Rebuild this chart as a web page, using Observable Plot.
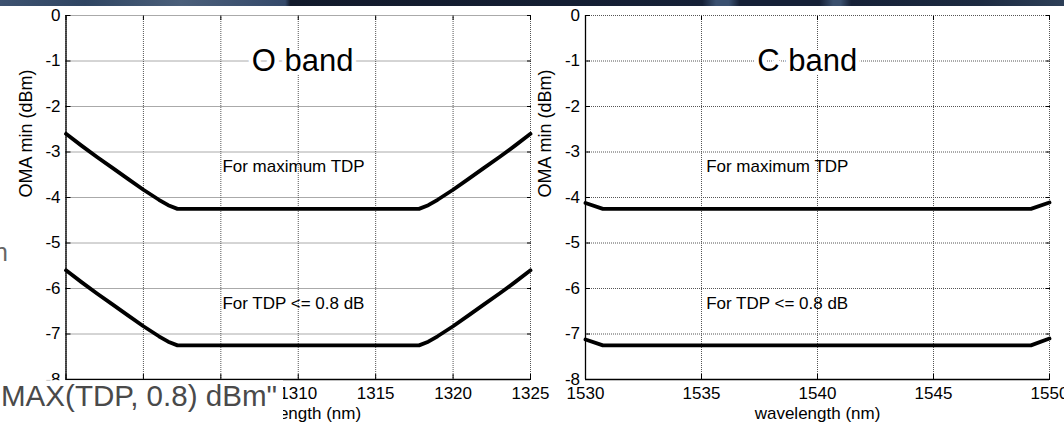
<!DOCTYPE html>
<html><head><meta charset="utf-8">
<script src="https://cdn.jsdelivr.net/npm/d3@7"></script>
<script src="https://cdn.jsdelivr.net/npm/@observablehq/plot@0.6"></script>
<style>
html,body{margin:0;padding:0;background:#fff;overflow:hidden;}
#page{position:relative;width:1064px;height:429px;overflow:hidden;background:#fff;}
#band{position:absolute;left:0;top:0;width:1064px;height:5.5px;z-index:5;
 background:linear-gradient(90deg,#3d5270 0%,#2f4562 8%,#4b5f7a 17%,#34496a 26.8%,#121a2b 27.3%,#152036 66%,#3a5070 67.3%,#3a5070 68.5%,#152036 69.5%,#152036 77%,#3a4f6d 78.3%,#3a4f6d 79%,#162137 80%,#1c2a40 92%,#2d3f57 100%);}
.panel{position:absolute;top:0;}
.panel svg{max-width:none;}
#left{left:0;width:560px;z-index:1;}
#right{left:520px;width:544px;z-index:2;}
#overlay{position:absolute;left:0;top:0;z-index:4;}
</style></head>
<body><div id="page"><div id="band"></div><div id="left" class="panel"></div><div id="right" class="panel"></div></div>
<script>
// ---- data ----
const yTicks = [0, -1, -2, -3, -4, -5, -6, -7, -8];
const oTicks = [1295, 1300, 1305, 1310, 1315, 1320, 1325];
const cTicks = [1530, 1535, 1540, 1545, 1550];

const oWavelength = [1295, 1296, 1297, 1298, 1299, 1300, 1301, 1301.6, 1302.2, 1317.8, 1318.4, 1319, 1320, 1321, 1322, 1323, 1324, 1325];
const oMaxTDP     = [-2.6, -2.86, -3.11, -3.35, -3.59, -3.83, -4.05, -4.17, -4.25, -4.25, -4.17, -4.05, -3.83, -3.59, -3.35, -3.11, -2.86, -2.6];
const oTDP08      = [-5.6, -5.86, -6.11, -6.35, -6.59, -6.83, -7.05, -7.17, -7.25, -7.25, -7.17, -7.05, -6.83, -6.59, -6.35, -6.11, -5.86, -5.6];

const cWavelength = [1530, 1530.75, 1549.2, 1550];
const cMaxTDP     = [-4.12, -4.25, -4.25, -4.11];
const cTDP08      = [-7.12, -7.25, -7.25, -7.1];

const noteLabels = ["For maximum TDP", "For TDP <= 0.8 dB"];
const yLabel = "OMA min (dBm)";
const xLabel = "wavelength (nm)";

// ---- drawing ----
const FONT = "'Liberation Sans', Arial, sans-serif";
const gridStyle = {stroke: "#555", strokeOpacity: 1, strokeDasharray: "1,1", strokeWidth: 1};
const fmt = d => String(d);

function panel({wl, maxTDP, tdp08, ticks, title, titleX, noteX, width, marginLeft, marginRight}) {
  const upper = wl.map((x, i) => ({x, y: maxTDP[i]}));
  const lower = wl.map((x, i) => ({x, y: tdp08[i]}));
  return Plot.plot({
    width, height: 429, marginLeft, marginRight, marginTop: 15, marginBottom: 50,
    style: {background: "transparent", fontFamily: FONT, fontSize: "17px", color: "#000", overflow: "visible"},
    x: {domain: [ticks[0], ticks[ticks.length - 1]]},
    y: {domain: [-8, 0]},
    marks: [
      Plot.gridX(ticks, gridStyle),
      Plot.gridY(yTicks, gridStyle),
      Plot.ruleX([ticks[0]], {stroke: "#000", strokeWidth: 1.3}),
      Plot.ruleY([-8], {stroke: "#000", strokeWidth: 1.3}),
      Plot.axisY(yTicks, {anchor: "left", tickSize: 5, dx: 5, tickPadding: 5.5, tickFormat: fmt, label: null}),
      Plot.axisY(yTicks, {anchor: "right", tickSize: 4, dx: -4, tickFormat: () => "", label: null}),
      Plot.axisX(ticks, {anchor: "bottom", tickSize: 5, dy: -5, tickPadding: 7, tickFormat: fmt, label: null}),
      Plot.axisX(ticks, {anchor: "top", tickSize: 4, dy: 4, tickFormat: () => "", label: null}),
      Plot.line(upper, {x: "x", y: "y", stroke: "#000", strokeWidth: 3.8}),
      Plot.line(lower, {x: "x", y: "y", stroke: "#000", strokeWidth: 3.8}),
      Plot.text([title], {x: titleX, y: -1, text: d => d, textAnchor: "start", fontSize: 31, fill: "#000",
        stroke: "#fff", strokeWidth: 9, paintOrder: "stroke"}),
      Plot.text([noteLabels[0]], {x: noteX, y: -3.31, text: d => d, textAnchor: "start", fontSize: 17, fill: "#000"}),
      Plot.text([noteLabels[1]], {x: noteX, y: -6.33, text: d => d, textAnchor: "start", fontSize: 17, fill: "#000"}),
      Plot.text([yLabel], {frameAnchor: "left", dx: -40, rotate: -90, text: d => d, fontSize: 18, fill: "#000"}),
      Plot.text([xLabel], {frameAnchor: "bottom", dy: 39, text: d => d, fontSize: 17, fill: "#000"})
    ]
  });
}

document.getElementById("left").append(panel({
  wl: oWavelength, maxTDP: oMaxTDP, tdp08: oTDP08, ticks: oTicks,
  title: "O band", titleX: 1307, noteX: 1305.1, width: 560, marginLeft: 65.5, marginRight: 30
}));
document.getElementById("right").append(panel({
  wl: cWavelength, maxTDP: cMaxTDP, tdp08: cTDP08, ticks: cTicks,
  title: "C band", titleX: 1537.4, noteX: 1535.2, width: 544, marginLeft: 65, marginRight: 15
}));

// slide fragments lying over the chart image
const ns = "http://www.w3.org/2000/svg";
const ov = document.createElementNS(ns, "svg");
ov.setAttribute("id", "overlay");
ov.setAttribute("width", 1064); ov.setAttribute("height", 429);
ov.innerHTML = `
  <rect x="0" y="380.2" width="283" height="49" fill="#fff"/>
  <text x="1" y="405.5" font-family="${FONT}" font-size="30" fill="#4a4a4a" textLength="276" lengthAdjust="spacingAndGlyphs">MAX(TDP, 0.8) dBm"</text>
  <text x="-6" y="261" font-family="${FONT}" font-size="25" fill="#666">n</text>`;
document.getElementById("page").append(ov);
</script></body></html>
